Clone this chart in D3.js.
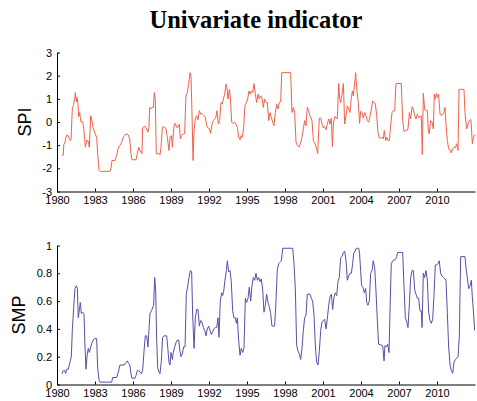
<!DOCTYPE html>
<html>

<head>
    <meta charset="utf-8">
    <title>Univariate indicator</title>
    <style>
        body { margin: 0; background: #fff; }
        .tick text { font-family: "Liberation Sans", Arial, sans-serif; font-size: 11px; fill: #000; }
        .domain, .tick line { stroke: #000; }
    </style>
</head>

<body>
    <script src="https://d3js.org/d3.v7.min.js"></script>
    <script>

    // first year of the record; times below are years since then
    var startYear = 1980;
    var xTicks = [1980, 1983, 1986, 1989, 1992, 1995, 1998, 2001, 2004, 2007, 2010];
    var spiTicks = [-3, -2, -1, 0, 1, 2, 3];
    var smpTicks = [0, 0.2, 0.4, 0.6, 0.8, 1];

    // SPI: [years since 1980, value]
    var spi = [
        [0.39, -1.43], [0.5, -1.43], [0.53, -0.99], [0.63, -0.87], [0.74, -0.59], [0.84, -0.56], [0.95, -0.69],
        [1.05, -0.8], [1.11, -0.73], [1.21, 0.56], [1.29, 0.7], [1.39, 0.99], [1.45, 1.27], [1.53, 0.87],
        [1.58, 1.06], [1.66, 0.77], [1.71, 0.23], [1.79, 0.41], [1.84, 0.2], [1.89, 0.01], [2.03, 0.01],
        [2.13, -0.37], [2.24, -1.09], [2.34, -0.8], [2.45, -0.8], [2.55, -1.09], [2.66, 0.27], [2.76, 0.06],
        [2.87, -0.3], [2.97, -0.44], [3.13, -0.66], [3.21, -1.37], [3.32, -2.09], [3.39, -2.13], [4.18, -2.13],
        [4.26, -1.99], [4.34, -1.66], [4.58, -1.66], [4.71, -1.44], [4.82, -1.16], [4.97, -1.01], [5.11, -0.87],
        [5.18, -0.73], [5.29, -0.59], [5.45, -0.51], [5.63, -0.56], [5.74, -0.73], [5.84, -1.37], [5.92, -1.63],
        [6.24, -1.63], [6.34, -1.37], [6.47, -1.09], [6.55, -1.23], [6.63, -1.3], [6.71, -1.37], [6.76, -0.27],
        [6.87, -0.19], [6.97, -0.2], [7.08, -0.3], [7.18, -0.44], [7.26, -0.23], [7.32, 0.63], [7.39, 0.56],
        [7.5, 0.63], [7.61, 0.63], [7.68, 1.27], [7.76, 0.99], [7.84, -1.37], [8.08, -1.37], [8.13, -1.41],
        [8.21, -1.09], [8.32, -0.23], [8.45, -0.2], [8.61, -0.3], [8.71, -0.66], [8.84, -1.23], [8.92, -0.66],
        [9.03, -0.59], [9.11, -1.09], [9.18, -0.51], [9.26, -0.09], [9.34, -0.06], [9.45, -0.23], [9.55, -0.23],
        [9.66, -0.09], [9.74, -0.73], [9.84, -0.59], [9.97, -0.51], [10.08, -0.51], [10.18, 1.13], [10.29, 1.27],
        [10.39, 1.63], [10.5, 2.13], [10.58, 1.99], [10.66, 0.34], [10.74, -1.66], [10.82, -0.37], [10.92, 0.13],
        [11.03, 0.27], [11.13, 0.09], [11.24, 0.49], [11.34, 0.34], [11.45, 0.37], [11.61, 0.27], [11.71, 0.2],
        [11.82, -0.16], [11.92, -0.26], [12.03, -0.3], [12.13, -0.49], [12.24, -0.09], [12.34, 0.06], [12.45, 0.13],
        [12.53, 0.17], [12.63, 0.49], [12.74, -0.09], [12.84, 0.06], [12.95, 0.84], [13.05, 0.77], [13.13, 0.99],
        [13.24, 1.2], [13.34, 1.63], [13.42, 1.49], [13.5, 0.99], [13.61, 1.41], [13.68, 1.13], [13.79, -0.01],
        [13.89, -0.06], [14.0, -0.01], [14.13, -0.09], [14.24, -0.23], [14.34, -0.66], [14.45, -0.77], [14.53, -0.59],
        [14.63, -0.66], [14.74, -0.23], [14.84, 0.7], [14.95, 0.84], [15.05, 0.99], [15.16, 1.34], [15.24, 1.2],
        [15.34, 1.34], [15.45, 1.27], [15.55, 1.66], [15.66, 1.2], [15.76, 0.84], [15.87, 1.2], [15.97, 0.99],
        [16.08, 1.13], [16.18, 1.06], [16.29, 0.63], [16.39, 0.99], [16.5, 0.84], [16.61, 0.84], [16.71, 0.06],
        [16.82, 0.41], [16.92, 0.2], [17.03, -0.01], [17.13, -0.16], [17.24, 0.41], [17.34, 0.77], [17.45, 0.56],
        [17.55, 0.84], [17.66, 0.87], [17.74, 2.13], [18.45, 2.13], [18.55, 0.41], [18.66, 0.63], [18.76, 0.41],
        [18.87, -0.87], [18.97, -1.01], [19.11, -1.09], [19.24, -0.87], [19.34, -0.66], [19.45, -0.3], [19.55, 0.06],
        [19.66, -0.16], [19.76, 0.63], [19.87, 0.49], [19.97, 0.27], [20.13, 0.06], [20.24, -0.8], [20.37, -0.94],
        [20.5, -1.16], [20.58, -1.37], [20.71, 0.17], [20.82, 0.17], [20.92, -0.09], [21.03, -0.26], [21.13, -0.2],
        [21.24, -0.34], [21.34, -0.09], [21.45, 0.13], [21.55, -0.09], [21.66, 0.17], [21.74, -1.06], [21.82, -0.09],
        [21.92, 0.23], [22.03, 0.2], [22.13, 0.13], [22.24, 1.66], [22.32, 0.99], [22.39, 0.84], [22.5, 1.2],
        [22.61, 1.66], [22.71, -0.09], [22.82, 0.27], [22.92, 0.7], [23.03, 0.56], [23.13, 0.41], [23.24, 1.06],
        [23.32, 1.34], [23.39, 1.13], [23.47, 1.51], [23.58, 2.13], [23.68, 1.34], [23.79, 0.84], [23.89, -0.06],
        [23.97, 0.46], [24.08, 0.41], [24.18, 0.17], [24.29, 0.41], [24.39, 0.27], [24.5, 0.06], [24.61, -0.01],
        [24.71, 0.23], [24.82, 0.56], [24.92, 0.91], [25.03, 0.84], [25.13, 0.8], [25.24, 0.27], [25.34, -0.44],
        [25.45, -0.7], [25.55, -0.69], [25.66, -0.66], [25.76, -0.73], [25.84, -0.37], [25.95, -0.8], [26.03, -0.66],
        [26.13, -0.8], [26.24, -0.8], [26.34, -0.16], [26.45, 0.41], [26.55, 0.49], [26.66, 0.49], [26.76, 1.66],
        [27.18, 1.66], [27.29, 0.06], [27.39, -0.4], [27.5, -0.37], [27.61, -0.37], [27.71, -0.3], [27.82, 0.41],
        [27.92, 0.13], [28.03, 0.66], [28.13, 0.56], [28.24, 0.27], [28.34, 0.13], [28.45, 0.34], [28.55, 0.2],
        [28.66, 0.2], [28.76, 0.27], [28.84, -1.4], [28.92, 1.24], [29.03, 0.53], [29.13, 0.49], [29.24, 0.49],
        [29.32, -0.37], [29.39, -0.51], [29.5, 0.06], [29.61, -0.01], [29.71, -0.3], [29.79, 1.2], [29.87, 0.99],
        [29.95, 1.23], [30.03, 1.06], [30.13, 1.2], [30.24, 0.34], [30.34, 0.27], [30.45, 0.34], [30.55, 0.41],
        [30.63, 0.63], [30.71, -0.09], [30.82, -0.8], [30.92, -1.16], [31.03, -1.19], [31.13, -1.34], [31.24, -1.16],
        [31.34, -1.09], [31.45, -1.11], [31.55, -0.94], [31.66, -1.23], [31.74, 1.41], [32.13, 1.41], [32.21, 0.41],
        [32.34, -0.3], [32.45, -0.09], [32.55, 0.06], [32.68, 0.1], [32.79, -0.94], [32.89, -0.66], [32.97, -0.54]
    ];

    // SMP: [years since 1980, value]
    var smp = [
        [0.39, 0.077], [0.5, 0.1], [0.61, 0.1], [0.68, 0.08], [0.76, 0.11], [0.89, 0.11], [0.97, 0.14],
        [1.05, 0.17], [1.13, 0.2], [1.21, 0.39], [1.32, 0.56], [1.42, 0.69], [1.53, 0.71], [1.61, 0.69],
        [1.68, 0.48], [1.76, 0.53], [1.84, 0.59], [1.92, 0.51], [2.03, 0.52], [2.13, 0.51], [2.21, 0.27],
        [2.29, 0.11], [2.39, 0.22], [2.47, 0.26], [2.55, 0.23], [2.66, 0.27], [2.76, 0.3], [2.87, 0.32],
        [2.97, 0.33], [3.13, 0.33], [3.21, 0.12], [3.32, 0.03], [3.39, 0.017], [4.32, 0.017], [4.39, 0.05],
        [4.71, 0.05], [4.84, 0.09], [4.97, 0.14], [5.29, 0.14], [5.45, 0.16], [5.55, 0.17], [5.66, 0.15],
        [5.76, 0.14], [5.84, 0.077], [5.92, 0.045], [6.16, 0.045], [6.24, 0.065], [6.34, 0.1], [6.45, 0.1],
        [6.55, 0.09], [6.66, 0.077], [6.76, 0.1], [6.87, 0.24], [6.97, 0.35], [7.08, 0.35], [7.18, 0.27],
        [7.26, 0.39], [7.34, 0.51], [7.45, 0.53], [7.55, 0.55], [7.63, 0.57], [7.71, 0.77], [7.79, 0.68],
        [7.87, 0.32], [7.95, 0.12], [8.05, 0.09], [8.13, 0.077], [8.24, 0.17], [8.34, 0.34], [8.45, 0.35],
        [8.66, 0.35], [8.74, 0.27], [8.84, 0.16], [8.92, 0.14], [9.0, 0.23], [9.11, 0.18], [9.18, 0.23],
        [9.29, 0.27], [9.39, 0.3], [9.5, 0.32], [9.61, 0.32], [9.71, 0.24], [9.79, 0.2], [9.89, 0.22],
        [10.0, 0.27], [10.11, 0.27], [10.21, 0.65], [10.32, 0.71], [10.42, 0.77], [10.53, 0.82], [10.63, 0.81],
        [10.71, 0.5], [10.82, 0.26], [10.92, 0.48], [11.03, 0.54], [11.13, 0.54], [11.24, 0.42], [11.34, 0.46],
        [11.45, 0.45], [11.55, 0.41], [11.66, 0.39], [11.76, 0.35], [11.87, 0.4], [11.97, 0.42], [12.08, 0.39],
        [12.18, 0.36], [12.29, 0.38], [12.39, 0.4], [12.5, 0.41], [12.61, 0.41], [12.71, 0.48], [12.79, 0.34],
        [12.89, 0.6], [13.0, 0.66], [13.08, 0.64], [13.16, 0.67], [13.26, 0.75], [13.37, 0.82], [13.45, 0.89],
        [13.55, 0.81], [13.66, 0.82], [13.76, 0.74], [13.87, 0.53], [13.97, 0.48], [14.08, 0.48], [14.16, 0.44],
        [14.24, 0.48], [14.34, 0.32], [14.45, 0.21], [14.55, 0.26], [14.66, 0.23], [14.76, 0.26], [14.87, 0.62],
        [14.97, 0.59], [15.08, 0.62], [15.18, 0.7], [15.29, 0.6], [15.39, 0.71], [15.5, 0.77], [15.61, 0.75],
        [15.71, 0.8], [15.82, 0.75], [15.92, 0.77], [16.03, 0.74], [16.13, 0.76], [16.24, 0.68], [16.34, 0.52],
        [16.45, 0.57], [16.55, 0.65], [16.66, 0.59], [16.76, 0.56], [16.87, 0.51], [16.97, 0.42], [17.18, 0.42],
        [17.29, 0.6], [17.39, 0.82], [17.5, 0.87], [17.61, 0.88], [17.71, 0.89], [17.82, 0.98], [18.61, 0.98],
        [18.71, 0.87], [18.82, 0.68], [18.92, 0.28], [19.03, 0.24], [19.13, 0.22], [19.24, 0.18], [19.34, 0.26],
        [19.45, 0.39], [19.55, 0.48], [19.66, 0.5], [19.76, 0.65], [19.97, 0.65], [20.08, 0.62], [20.18, 0.6],
        [20.29, 0.5], [20.39, 0.29], [20.5, 0.16], [20.61, 0.14], [20.71, 0.24], [20.82, 0.39], [20.92, 0.45],
        [21.03, 0.46], [21.13, 0.47], [21.24, 0.4], [21.34, 0.47], [21.45, 0.57], [21.55, 0.63], [21.66, 0.65],
        [21.76, 0.54], [21.87, 0.63], [21.97, 0.66], [22.08, 0.64], [22.18, 0.74], [22.29, 0.77], [22.39, 0.91],
        [22.5, 0.92], [22.61, 0.95], [22.71, 0.96], [22.82, 0.89], [22.92, 0.75], [23.03, 0.78], [23.13, 0.8],
        [23.24, 0.8], [23.34, 0.87], [23.42, 0.94], [23.53, 0.96], [23.63, 0.98], [23.82, 0.98], [23.89, 0.94],
        [23.97, 0.82], [24.05, 0.71], [24.16, 0.7], [24.26, 0.66], [24.37, 0.69], [24.45, 0.59], [24.55, 0.57],
        [24.66, 0.6], [24.76, 0.8], [24.87, 0.82], [24.97, 0.89], [25.08, 0.84], [25.18, 0.68], [25.29, 0.46],
        [25.39, 0.29], [25.71, 0.28], [25.82, 0.17], [25.89, 0.28], [26.0, 0.27], [26.11, 0.29], [26.21, 0.23],
        [26.29, 0.53], [26.39, 0.87], [26.5, 0.89], [26.71, 0.9], [26.82, 0.92], [26.89, 0.95], [27.29, 0.95],
        [27.39, 0.72], [27.5, 0.48], [27.61, 0.45], [27.71, 0.41], [27.82, 0.58], [27.92, 0.77], [28.03, 0.82],
        [28.13, 0.82], [28.24, 0.68], [28.34, 0.65], [28.45, 0.62], [28.55, 0.62], [28.66, 0.53], [28.76, 0.53],
        [28.82, 0.41], [28.92, 0.8], [29.03, 0.77], [29.13, 0.82], [29.24, 0.75], [29.34, 0.52], [29.45, 0.46],
        [29.55, 0.44], [29.66, 0.47], [29.76, 0.64], [29.87, 0.86], [29.97, 0.86], [30.08, 0.87], [30.18, 0.89],
        [30.29, 0.8], [30.39, 0.78], [30.5, 0.77], [30.61, 0.76], [30.71, 0.75], [30.82, 0.51], [30.92, 0.27],
        [31.03, 0.14], [31.13, 0.1], [31.24, 0.08], [31.34, 0.16], [31.45, 0.18], [31.66, 0.2], [31.76, 0.34],
        [31.87, 0.92], [32.21, 0.92], [32.29, 0.84], [32.39, 0.77], [32.5, 0.69], [32.61, 0.71], [32.71, 0.75],
        [32.79, 0.63], [32.89, 0.51], [32.97, 0.39]
    ];

    var width = 477, height = 401;
    var left = 57, right = 475;

    var svg = d3.select("body")
        .append("svg")
        .attr("width", width)
        .attr("height", height);

    var x = d3.scaleLinear().domain([1980, 2013]).range([left, right]);

    // plain hyphen for negatives, like the original
    var plain = function(d) { return String(d); };

    svg.append("text")
        .attr("x", 256)
        .attr("y", 28)
        .attr("text-anchor", "middle")
        .style("font-family", "'Liberation Serif', 'Times New Roman', serif")
        .style("font-weight", "bold")
        .style("font-size", "24.5px")
        .text("Univariate indicator");

    // one panel: y scale, axes, line and label
    function panel(data, yDomain, yRange, ticks, color, label, labelX) {
        var y = d3.scaleLinear().domain(yDomain).range(yRange);

        svg.append("g")
            .attr("transform", "translate(0," + yRange[0] + ")")
            .call(d3.axisBottom(x).tickValues(xTicks).tickFormat(plain)
                .tickSizeInner(-3).tickSizeOuter(0).tickPadding(5));

        svg.append("g")
            .attr("transform", "translate(" + left + ",0)")
            .call(d3.axisLeft(y).tickValues(ticks).tickFormat(plain)
                .tickSizeInner(-3).tickSizeOuter(0).tickPadding(5));

        var line = d3.line()
            .x(function(d) { return x(startYear + d[0]); })
            .y(function(d) { return y(d[1]); });

        svg.append("path")
            .datum(data)
            .attr("fill", "none")
            .attr("stroke", color)
            .attr("stroke-width", 1)
            .attr("d", line);

        svg.append("text")
            .attr("transform", "translate(" + labelX + "," + ((yRange[0] + yRange[1]) / 2) + ") rotate(-90)")
            .attr("text-anchor", "middle")
            .style("font-family", "'Liberation Sans', Arial, sans-serif")
            .style("font-size", "18px")
            .text(label);
    }

    panel(spi, [-3, 3], [191.5, 52.5], spiTicks, "#f3604a", "SPI", 31);
    panel(smp, [0, 1], [384.5, 245.5], smpTicks, "#5550a8", "SMP", 25);

    </script>
</body>

</html>
